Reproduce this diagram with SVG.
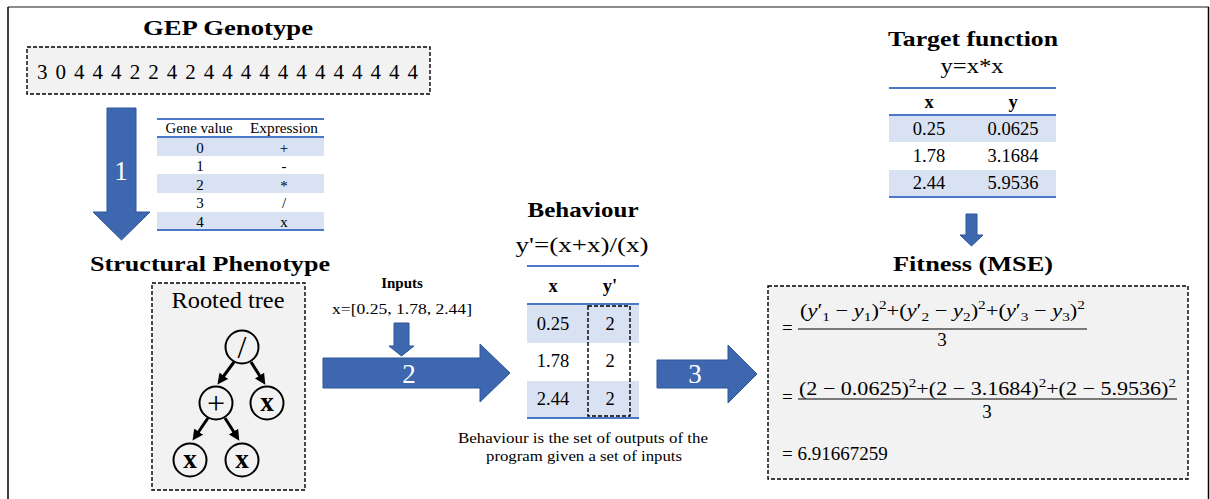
<svg xmlns="http://www.w3.org/2000/svg" width="1210" height="499" viewBox="0 0 1210 499">
<defs>
<style>
.t{font-family:"Liberation Serif","Times New Roman","DejaVu Serif",serif;fill:#000}
.b{font-weight:bold}
.m{text-anchor:middle}
.box{fill:#f2f2f2;stroke:#000;stroke-width:1.4;stroke-dasharray:4 2}
.arr{fill:#3d68b0;stroke:#2f5597;stroke-width:1}
.shade{fill:#d9e2f3}
.rule{stroke:#4a78c6;stroke-width:2}
.lbl{font-family:"Liberation Serif","Times New Roman","DejaVu Serif",serif;fill:#fff;font-size:27px;text-anchor:middle}
.node{fill:none;stroke:#000;stroke-width:2}
.edge{stroke:#000;stroke-width:3;marker-end:url(#ah)}
.mt{font-family:"Liberation Serif","Times New Roman","DejaVu Serif",serif;font-size:19px;fill:#000}
</style>
<marker id="ah" viewBox="0 0 10 10" refX="6" refY="5" markerWidth="3.6" markerHeight="3.6" orient="auto" markerUnits="strokeWidth">
<path d="M0,0 L10,5 L0,10 z" fill="#000"/>
</marker>
</defs>
<rect width="1210" height="499" fill="#fff"/>
<g id="frame">
<line x1="8" y1="7" x2="1209" y2="7" stroke="#8c8c8c" stroke-width="2"/>
<line x1="8" y1="7" x2="8" y2="499" stroke="#000" stroke-width="1.5"/>
<line x1="1208.5" y1="7" x2="1208.5" y2="499" stroke="#000" stroke-width="1.5"/>
</g>

<g id="genotype">
<text class="t b m" x="228" y="35" font-size="21" textLength="170" lengthAdjust="spacingAndGlyphs">GEP Genotype</text>
<rect class="box" x="27" y="47" width="403" height="47"/>
<text class="t" x="37" y="79" font-size="21" textLength="381">3 0 4 4 4 2 2 4 2 4 4 4 4 4 4 4 4 4 4 4 4</text>
</g>

<g id="gene-table">
<rect class="shade" x="157" y="137" width="167" height="19"/>
<rect class="shade" x="157" y="174" width="167" height="19"/>
<rect class="shade" x="157" y="212" width="167" height="18"/>
<line class="rule" x1="157" y1="119" x2="324" y2="119"/>
<line class="rule" x1="157" y1="137" x2="324" y2="137"/>
<line class="rule" x1="157" y1="230" x2="324" y2="230"/>
<g class="t" font-size="15">
<text class="m" x="199" y="133" textLength="67" lengthAdjust="spacingAndGlyphs">Gene value</text>
<text class="m" x="284" y="133" textLength="68" lengthAdjust="spacingAndGlyphs">Expression</text>
<text class="m" x="200" y="153">0</text><text class="m" x="284" y="153">+</text>
<text class="m" x="200" y="171">1</text><text class="m" x="284" y="171">-</text>
<text class="m" x="200" y="190">2</text><text class="m" x="284" y="191">*</text>
<text class="m" x="200" y="208">3</text><text class="m" x="284" y="208">/</text>
<text class="m" x="200" y="227">4</text><text class="m" x="284" y="227">x</text>
</g>
</g>

<g id="phenotype">
<text class="t b m" x="210" y="271" font-size="21" textLength="240" lengthAdjust="spacingAndGlyphs">Structural Phenotype</text>
<rect class="box" x="152" y="283" width="153" height="207"/>
<text class="t m" x="228" y="308" font-size="23" textLength="113" lengthAdjust="spacingAndGlyphs">Rooted tree</text>
<circle class="node" cx="242" cy="347" r="16.5"/>
<circle class="node" cx="216" cy="403" r="16.5"/>
<circle class="node" cx="267" cy="403" r="16.5"/>
<circle class="node" cx="190" cy="460" r="16.5"/>
<circle class="node" cx="242" cy="460" r="16.5"/>
<text class="t m" x="242" y="358" font-size="32">/</text>
<text class="t m" x="216" y="414" font-size="32">+</text>
<text class="t b m" x="267" y="411" font-size="27">x</text>
<text class="t b m" x="190" y="468" font-size="27">x</text>
<text class="t b m" x="242" y="468" font-size="27">x</text>
</g>

<g id="inputs">
<text class="t b m" x="402" y="288" font-size="15">Inputs</text>
<text class="t m" x="402" y="314" font-size="15.5" textLength="140" lengthAdjust="spacingAndGlyphs">x=[0.25, 1.78, 2.44]</text>
</g>

<g id="behaviour">
<text class="t b m" x="583" y="217" font-size="21" textLength="111" lengthAdjust="spacingAndGlyphs">Behaviour</text>
<text class="t m" x="582" y="252" font-size="21" textLength="133" lengthAdjust="spacingAndGlyphs">y'=(x+x)/(x)</text>
<rect class="shade" x="527" y="304" width="112" height="39"/>
<rect class="shade" x="527" y="381" width="112" height="37"/>
<line class="rule" x1="527" y1="266" x2="639" y2="266"/>
<line class="rule" x1="527" y1="304" x2="639" y2="304"/>
<line class="rule" x1="527" y1="418" x2="639" y2="418"/>
<g class="t" font-size="18.5">
<text class="b m" x="553" y="292">x</text>
<text class="b m" x="610" y="292">y'</text>
<text class="m" x="553" y="330">0.25</text><text class="m" x="610" y="330">2</text>
<text class="m" x="553" y="367">1.78</text><text class="m" x="610" y="367">2</text>
<text class="m" x="553" y="405">2.44</text><text class="m" x="610" y="405">2</text>
</g>
<rect x="588" y="306" width="42" height="110" fill="none" stroke="#000" stroke-width="1.4" stroke-dasharray="4 2"/>
<text class="t m" x="583" y="443" font-size="14" textLength="250" lengthAdjust="spacingAndGlyphs">Behaviour is the set of outputs of the</text>
<text class="t m" x="584" y="461" font-size="14" textLength="196" lengthAdjust="spacingAndGlyphs">program given a set of inputs</text>
</g>

<g id="target">
<text class="t b m" x="973" y="46" font-size="21" textLength="170" lengthAdjust="spacingAndGlyphs">Target function</text>
<text class="t m" x="972" y="73" font-size="20" textLength="63" lengthAdjust="spacingAndGlyphs">y=x*x</text>
<rect class="shade" x="889" y="115" width="167" height="27"/>
<rect class="shade" x="889" y="170" width="167" height="27"/>
<line class="rule" x1="889" y1="88" x2="1056" y2="88"/>
<line class="rule" x1="889" y1="115" x2="1056" y2="115"/>
<line class="rule" x1="889" y1="197" x2="1056" y2="197"/>
<g class="t" font-size="18.5">
<text class="b m" x="929" y="108">x</text>
<text class="b m" x="1013" y="108">y</text>
<text class="m" x="929" y="135">0.25</text><text class="m" x="1013" y="135">0.0625</text>
<text class="m" x="929" y="162">1.78</text><text class="m" x="1013" y="162">3.1684</text>
<text class="m" x="929" y="189">2.44</text><text class="m" x="1013" y="189">5.9536</text>
</g>
</g>

<g id="fitness">
<text class="t b m" x="973" y="271" font-size="21" textLength="160" lengthAdjust="spacingAndGlyphs">Fitness (MSE)</text>
<rect class="box" x="768" y="286" width="420" height="193"/>
<text class="mt" x="782" y="334">=</text>
<text class="mt" x="800" y="317" textLength="285" lengthAdjust="spacingAndGlyphs">(<tspan font-style="italic">y</tspan>′<tspan font-size="13" dy="4">1</tspan><tspan dy="-4"> − </tspan><tspan font-style="italic">y</tspan><tspan font-size="13" dy="4">1</tspan><tspan dy="-4">)</tspan><tspan font-size="13" dy="-8">2</tspan><tspan dy="8">+(</tspan><tspan font-style="italic">y</tspan>′<tspan font-size="13" dy="4">2</tspan><tspan dy="-4"> − </tspan><tspan font-style="italic">y</tspan><tspan font-size="13" dy="4">2</tspan><tspan dy="-4">)</tspan><tspan font-size="13" dy="-8">2</tspan><tspan dy="8">+(</tspan><tspan font-style="italic">y</tspan>′<tspan font-size="13" dy="4">3</tspan><tspan dy="-4"> − </tspan><tspan font-style="italic">y</tspan><tspan font-size="13" dy="4">3</tspan><tspan dy="-4">)</tspan><tspan font-size="13" dy="-8">2</tspan></text>
<line x1="798" y1="329" x2="1087" y2="329" stroke="#000" stroke-width="1.2"/>
<text class="mt m" x="942" y="346">3</text>
<text class="mt" x="782" y="403">=</text>
<text class="mt" x="799" y="395" textLength="377" lengthAdjust="spacingAndGlyphs">(2 − 0.0625)<tspan font-size="13" dy="-8">2</tspan><tspan dy="8">+(2 − 3.1684)</tspan><tspan font-size="13" dy="-8">2</tspan><tspan dy="8">+(2 − 5.9536)</tspan><tspan font-size="13" dy="-8">2</tspan></text>
<line x1="798" y1="399" x2="1177" y2="399" stroke="#000" stroke-width="1.2"/>
<text class="mt m" x="987" y="418">3</text>
<text class="mt" x="782" y="460">= 6.91667259</text>
</g>

<g id="connectors">
<polygon class="arr" points="107,108 136,108 136,212 150,212 121.5,240 93,212 107,212"/>
<text class="lbl" x="121" y="180">1</text>
<polygon class="arr" points="394,323 409,323 409,346 414,346 401.5,356 389,346 394,346"/>
<polygon class="arr" points="323,358 480,358 480,344 510,373 480,402 480,388 323,388"/>
<text class="lbl" x="409" y="383">2</text>
<polygon class="arr" points="657,360 728,360 728,345 757,374 728,403 728,388 657,388"/>
<text class="lbl" x="695" y="383">3</text>
<polygon class="arr" points="966,214 977,214 977,235 983,235 971.5,246 960,235 966,235"/>
<line class="edge" x1="234" y1="362" x2="220" y2="381"/>
<line class="edge" x1="251" y1="362" x2="263" y2="381"/>
<line class="edge" x1="208" y1="418" x2="195" y2="437"/>
<line class="edge" x1="225" y1="418" x2="237" y2="437"/>
</g>
</svg>
